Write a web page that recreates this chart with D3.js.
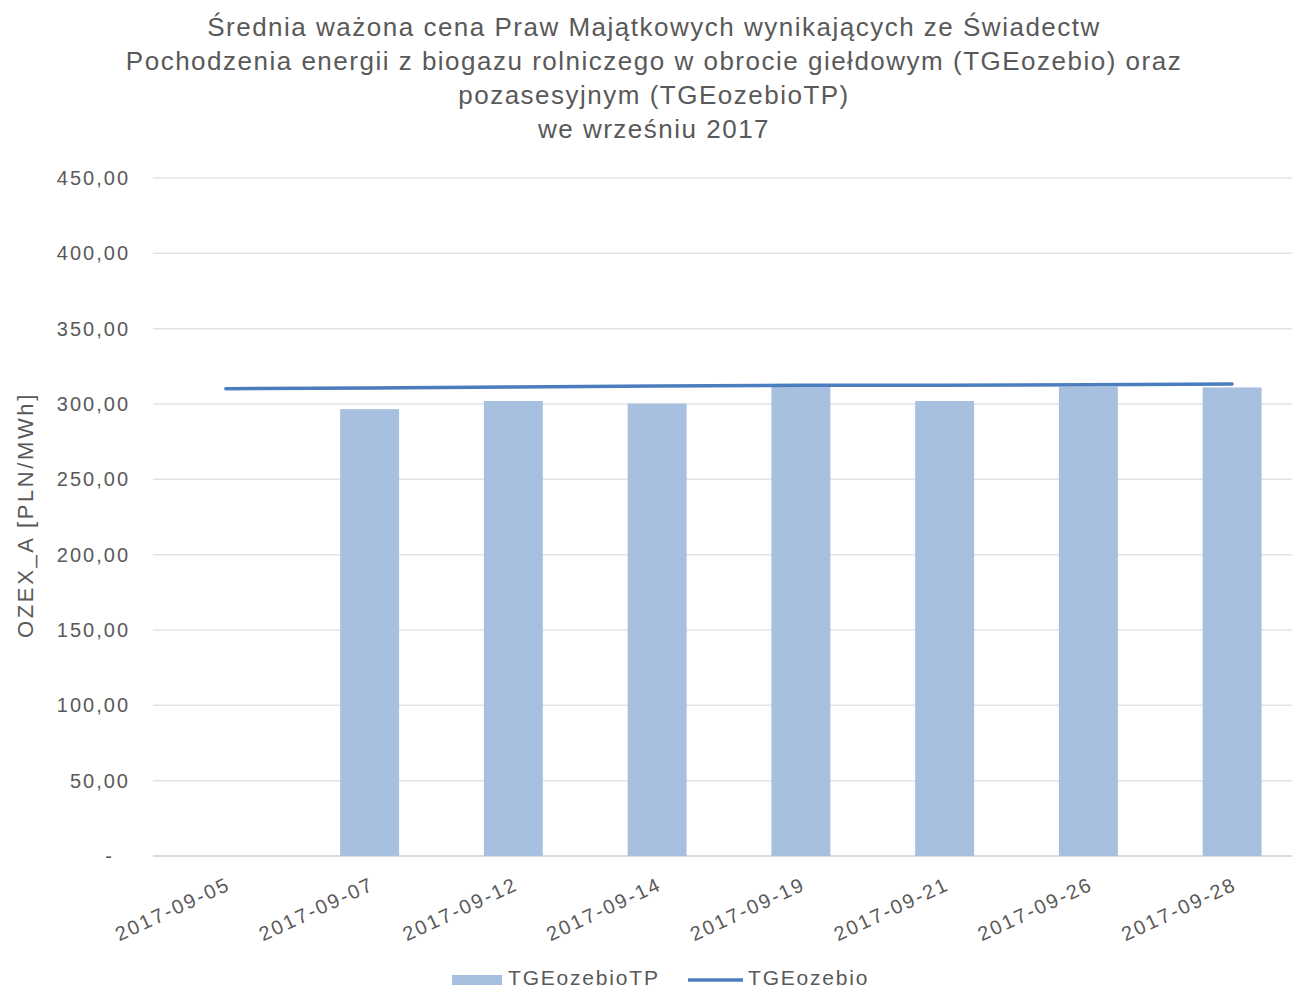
<!DOCTYPE html>
<html><head><meta charset="utf-8">
<script src="https://cdn.jsdelivr.net/npm/d3@7"></script>
<style>body{margin:0;background:#fff;} svg{display:block;font-family:"Liberation Sans",Arial,sans-serif;}</style>
</head><body>
<svg id="c" width="1292" height="991"></svg>
<script>
const titleLines = [
  "Średnia ważona cena Praw Majątkowych wynikających ze Świadectw",
  "Pochodzenia energii z biogazu rolniczego w obrocie giełdowym (TGEozebio) oraz",
  "pozasesyjnym (TGEozebioTP)",
  "we wrześniu 2017"
];
const categories = ["2017-09-05","2017-09-07","2017-09-12","2017-09-14","2017-09-19","2017-09-21","2017-09-26","2017-09-28"];
const tgeozebioTP = [null, 296.6, 302.0, 300.3, 311.3, 302.0, 311.5, 311.0];
const tgeozebio = [310.1, 310.7, 311.3, 311.9, 312.5, 312.5, 312.8, 313.2];
const yTicks = [0,50,100,150,200,250,300,350,400,450];
const seriesNames = ["TGEozebioTP","TGEozebio"];
const yTitle = "OZEX_A [PLN/MWh]";

(function(){
const svg = d3.select("#c");
const pLeft = 154, pRight = 1304, pTop = 178, pBottom = 856;
const x = d3.scaleBand().domain(categories).range([pLeft, pRight]).paddingInner(0.59).paddingOuter(0.295);
const y = d3.scaleLinear().domain([0,450]).range([pBottom, pTop]);
const grey = "#595959";

// title
const tt = svg.append("text").attr("text-anchor","middle").attr("fill",grey)
  .attr("font-size",26).attr("letter-spacing",1.5);
titleLines.forEach((t,i)=>{
  tt.append("tspan").attr("x",654).attr("y",36 + i*34).text(t);
});

// gridlines
svg.append("g").selectAll("line").data(yTicks).join("line")
  .attr("x1",153).attr("x2",1292)
  .attr("y1",d=>y(d)).attr("y2",d=>y(d))
  .attr("stroke",d=>d===0?"#d0d0d0":"#e3e3e3").attr("stroke-width",1.5);

// y axis labels
const fmt = d => d===0 ? "-" : d3.format(".2f")(d).replace(".",",");
svg.append("g").selectAll("text").data(yTicks).join("text")
  .attr("x",d=>d===0?114:130).attr("y",d=>y(d)).attr("dy","0.35em")
  .attr("text-anchor","end").attr("fill",grey).attr("font-size",20).attr("letter-spacing",2)
  .text(fmt);

// y title
svg.append("text").attr("transform","translate(33,515) rotate(-90)")
  .attr("text-anchor","middle").attr("fill",grey).attr("font-size",22).attr("letter-spacing",2.6).text(yTitle);

// bars
svg.append("g").selectAll("rect").data(categories.map((c,i)=>({c,v:tgeozebioTP[i]})).filter(d=>d.v!=null))
  .join("rect")
  .attr("x",d=>x(d.c)).attr("width",x.bandwidth())
  .attr("y",d=>y(d.v)).attr("height",d=>y(0)-y(d.v))
  .attr("fill","#a8c0df");

// line
const line = d3.line().x((d,i)=>x(categories[i])+x.bandwidth()/2).y(d=>y(d));
svg.append("path").datum(tgeozebio).attr("d",line).attr("fill","none")
  .attr("stroke","#4a7ebf").attr("stroke-width",3.5).attr("stroke-linecap","round");

// x labels
svg.append("g").selectAll("text").data(categories).join("text")
  .attr("transform",d=>`translate(${x(d)+x.bandwidth()/2+6},${889}) rotate(-25)`)
  .attr("text-anchor","end").attr("fill",grey).attr("font-size",20).attr("letter-spacing",2.2)
  .text(d=>d);

// legend
const lg = svg.append("g");
lg.append("rect").attr("x",452).attr("y",975).attr("width",50).attr("height",10).attr("fill","#a8c0df");
lg.append("text").attr("x",508).attr("y",985).attr("fill",grey).attr("font-size",21).attr("letter-spacing",1.8).text(seriesNames[0]);
lg.append("line").attr("x1",688).attr("x2",743).attr("y1",980).attr("y2",980).attr("stroke","#4a7ebf").attr("stroke-width",3.5);
lg.append("text").attr("x",748).attr("y",985).attr("fill",grey).attr("font-size",21).attr("letter-spacing",1.8).text(seriesNames[1]);
})();
</script>
</body></html>
